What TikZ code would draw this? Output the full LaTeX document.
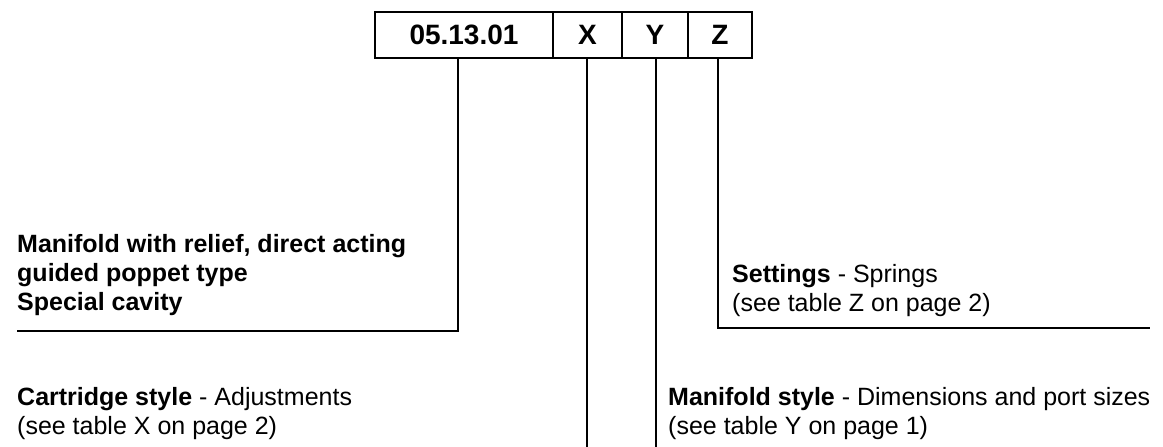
\documentclass[tikz,border=0pt]{standalone}
\usepackage{fontspec}
\setmainfont{Liberation Sans}
\usepackage{tikz}
\usetikzlibrary{positioning}

\tikzset{
  cell/.style={draw, line width=2.2pt, minimum height=46pt, inner sep=0pt, outer sep=0pt,
    font=\fontsize{28}{30}\selectfont\bfseries},
  lead/.style={line width=1.1pt},
  label/.style={anchor=north west, inner sep=0pt, align=left,
    font=\fontsize{25}{29}\selectfont}
}

\begin{document}
\begin{tikzpicture}[x=1pt,y=-1pt]
                \useasboundingbox (0,0) rectangle (1163,447);
                % code box
                \node[cell, minimum width=178pt] (num) at (464,35) {05.13.01};
                \node[cell, minimum width=69pt, right=0pt of num] (cx) {X};
                \node[cell, minimum width=66pt, right=0pt of cx] (cy) {Y};
                \node[cell, minimum width=64pt, right=0pt of cy] (cz) {Z};
                % labels
                \node[label] (relief) at (17,234) {\textbf{Manifold with relief, direct acting}\\\textbf{guided poppet type}\\\textbf{Special cavity}};
                \node[label] (springs) at (732,264) {\textbf{Settings} - Springs\\(see table Z on page 2)};
                \node[label] (cartridge) at (17,387) {\textbf{Cartridge style} - Adjustments\\(see table X on page 2)};
                \node[label] (ports) at (668,387) {\textbf{Manifold style} - Dimensions and port sizes\\(see table Y on page 1)};
                % leader lines
                \coordinate (numfoot) at (458,331);
                \coordinate (czfoot) at (718,328);
                \coordinate (czend) at (1150,328);
                \coordinate (cxfoot) at (587,447);
                \coordinate (cyfoot) at (656,447);
                \draw[lead] (numfoot |- num.south) -- (numfoot) -- (relief.west |- numfoot);
                \draw[lead] (cxfoot |- cx.south) -- (cxfoot);
                \draw[lead] (cyfoot |- cy.south) -- (cyfoot);
                \draw[lead] (czfoot |- cz.south) -- (czfoot) -- (czend);
            \end{tikzpicture}
\end{document}
